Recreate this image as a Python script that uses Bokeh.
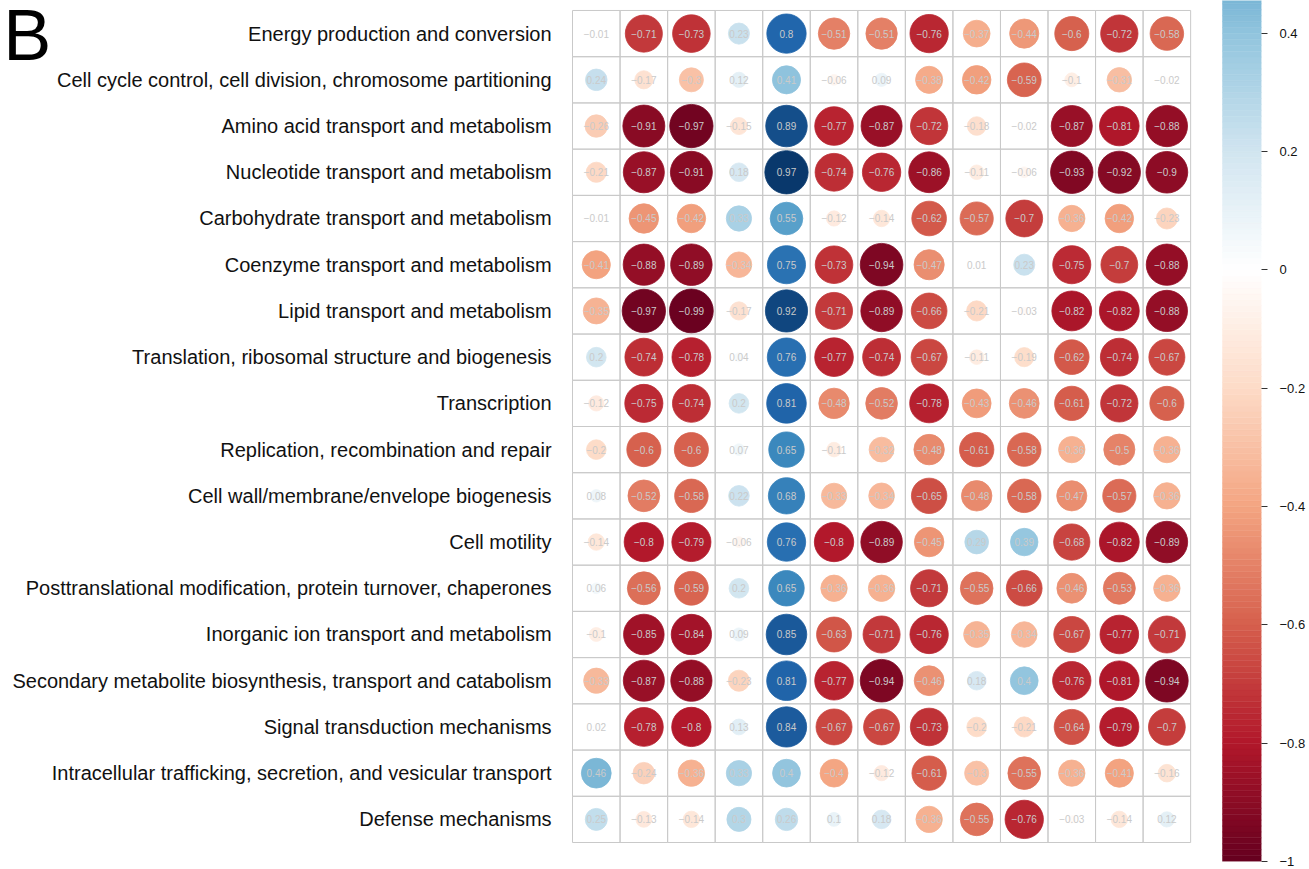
import numpy as np
from bokeh.plotting import figure
from bokeh.models import Range1d, LinearAxis, FixedTicker
from bokeh.core.properties import value
from bokeh.embed import file_html
from bokeh.resources import INLINE

panel_letter = "B"

categories = [
    "Energy production and conversion",
    "Cell cycle control, cell division, chromosome partitioning",
    "Amino acid transport and metabolism",
    "Nucleotide transport and metabolism",
    "Carbohydrate transport and metabolism",
    "Coenzyme transport and metabolism",
    "Lipid transport and metabolism",
    "Translation, ribosomal structure and biogenesis",
    "Transcription",
    "Replication, recombination and repair",
    "Cell wall/membrane/envelope biogenesis",
    "Cell motility",
    "Posttranslational modification, protein turnover, chaperones",
    "Inorganic ion transport and metabolism",
    "Secondary metabolite biosynthesis, transport and catabolism",
    "Signal transduction mechanisms",
    "Intracellular trafficking, secretion, and vesicular transport",
    "Defense mechanisms",
]

r_energy = [-0.01, -0.71, -0.73, 0.23, 0.8, -0.51, -0.51, -0.76, -0.37, -0.44, -0.6, -0.72, -0.58]
r_cellcycle = [0.24, -0.17, -0.3, 0.12, 0.41, -0.06, 0.09, -0.38, -0.42, -0.59, -0.1, -0.31, -0.02]
r_amino = [-0.26, -0.91, -0.97, -0.15, 0.89, -0.77, -0.87, -0.72, -0.18, -0.02, -0.87, -0.81, -0.88]
r_nucleo = [-0.21, -0.87, -0.91, 0.18, 0.97, -0.74, -0.76, -0.86, -0.11, -0.06, -0.93, -0.92, -0.9]
r_carbo = [-0.01, -0.45, -0.42, 0.33, 0.55, -0.12, -0.14, -0.62, -0.57, -0.7, -0.36, -0.42, -0.23]
r_coenz = [-0.41, -0.88, -0.89, -0.34, 0.75, -0.73, -0.94, -0.47, 0.01, 0.23, -0.75, -0.7, -0.88]
r_lipid = [-0.35, -0.97, -0.99, -0.17, 0.92, -0.71, -0.89, -0.66, -0.21, -0.03, -0.82, -0.82, -0.88]
r_transl = [0.2, -0.74, -0.78, 0.04, 0.76, -0.77, -0.74, -0.67, -0.11, -0.19, -0.62, -0.74, -0.67]
r_transc = [-0.12, -0.75, -0.74, 0.2, 0.81, -0.48, -0.52, -0.78, -0.43, -0.46, -0.61, -0.72, -0.6]
r_repl = [-0.2, -0.6, -0.6, 0.07, 0.65, -0.11, -0.32, -0.48, -0.61, -0.58, -0.36, -0.5, -0.36]
r_wall = [0.08, -0.52, -0.58, 0.22, 0.68, -0.33, -0.34, -0.65, -0.48, -0.58, -0.47, -0.57, -0.36]
r_motil = [-0.14, -0.8, -0.79, -0.06, 0.76, -0.8, -0.89, -0.45, 0.29, 0.39, -0.68, -0.82, -0.89]
r_posttr = [0.06, -0.56, -0.59, 0.2, 0.65, -0.36, -0.36, -0.71, -0.55, -0.66, -0.46, -0.53, -0.36]
r_inorg = [-0.1, -0.85, -0.84, 0.09, 0.85, -0.63, -0.71, -0.76, -0.35, -0.34, -0.67, -0.77, -0.71]
r_second = [-0.33, -0.87, -0.88, -0.23, 0.81, -0.77, -0.94, -0.46, 0.18, 0.4, -0.76, -0.81, -0.94]
r_signal = [0.02, -0.78, -0.8, 0.13, 0.84, -0.67, -0.67, -0.73, -0.2, -0.21, -0.64, -0.79, -0.7]
r_intra = [0.46, -0.24, -0.36, 0.33, 0.4, -0.4, -0.12, -0.61, -0.3, -0.55, -0.36, -0.41, -0.16]
r_defense = [0.25, -0.13, -0.14, 0.3, 0.26, 0.1, 0.18, -0.36, -0.55, -0.76, -0.03, -0.14, 0.12]

rows = [r_energy, r_cellcycle, r_amino, r_nucleo, r_carbo, r_coenz, r_lipid, r_transl,
        r_transc, r_repl, r_wall, r_motil, r_posttr, r_inorg, r_second, r_signal,
        r_intra, r_defense]

cb_ticks = [0.4, 0.2, 0, -0.2, -0.4, -0.6, -0.8, -1]

# RdBu ramp (corrplot COL2 style), 200 colours from -1 to 1
anchors = ["#67001F", "#B2182B", "#D6604D", "#F4A582", "#FDDBC7", "#FFFFFF",
           "#D1E5F0", "#92C5DE", "#4393C3", "#2166AC", "#053061"]


def hex2rgb(h):
    return [int(h[i:i + 2], 16) for i in (1, 3, 5)]


anc = np.array([hex2rgb(h) for h in anchors], dtype=float)
N = 200
pos = np.linspace(0, 1, len(anchors))
tt = np.linspace(0, 1, N)
pal = []
for t in tt:
    rgb = [np.interp(t, pos, anc[:, k]) for k in range(3)]
    pal.append("#%02x%02x%02x" % tuple(int(round(c)) for c in rgb))


def colour(v):
    return pal[int(round((v + 1) / 2 * (N - 1)))]


def fmt(v):
    s = f"{abs(v):.2f}".rstrip("0").rstrip(".")
    if s == "":
        s = "0"
    return ("\u2212" + s) if v < 0 else s


xs, ys, cols, sizes, labels = [], [], [], [], []
for i, row in enumerate(rows):
    for j, v in enumerate(row):
        xs.append(j)
        ys.append(i)
        cols.append(colour(v))
        sizes.append(44 * np.sqrt(abs(v)))
        labels.append(fmt(v))

ncol = len(rows[0])
nrow = len(rows)

# frame spans the canvas from the left edge; one grid column = 47.55 px
p = figure(width=1309, height=869, output_backend="svg", toolbar_location=None,
           x_range=Range1d(-12.53, ncol + 0.99), y_range=Range1d(nrow - 0.089, -0.716),
           x_axis_location=None, y_axis_location=None,
           min_border_left=0, min_border_right=48, min_border_top=0, min_border_bottom=8)
p.outline_line_color = None
p.grid.visible = False
p.background_fill_color = "white"
p.border_fill_color = "white"

# cell borders
p.rect(x=xs, y=ys, width=1, height=1, fill_color=None, line_color="#C9C9C9", line_width=1)

# circles
p.scatter(x=xs, y=ys, size=sizes, fill_color=cols, line_color=cols, line_width=0.8)

# coefficients
p.text(x=xs, y=ys, text=labels, text_align="center", text_baseline="middle",
       text_font_size="10px", text_color="#CACACA", text_font=value("Liberation Sans"))

# row labels (right-aligned, left of the grid)
p.text(x=[-0.5 - 0.44] * nrow, y=list(range(nrow)), text=categories,
       text_align="right", text_baseline="middle", text_font_size="20px",
       text_color="#111111", text_font=value("Liberation Sans"))

# panel letter
p.text(x=[-12.47], y=[0.03], text=[panel_letter], text_align="left",
       text_baseline="alphabetic", text_font_size="72px", text_color="black",
       text_font=value("Liberation Sans"))

# colour bar
p.extra_y_ranges = {"cb": Range1d(-1.0, 0.4556)}
edges = np.linspace(-1, 1, N + 1)
p.quad(left=ncol + 0.17, right=ncol + 0.99, bottom=edges[:-1], top=edges[1:],
       fill_color=pal, line_color=pal, line_width=0.5, y_range_name="cb")

cax = LinearAxis(y_range_name="cb", ticker=FixedTicker(ticks=cb_ticks))
cax.axis_line_color = None
cax.minor_tick_line_color = None
cax.major_tick_out = 6
cax.major_tick_in = 0
cax.major_tick_line_color = "#333333"
cax.major_label_standoff = 12
cax.major_label_text_font = "Liberation Sans"
cax.major_label_text_font_size = "13px"
cax.major_label_text_color = "#111111"
p.add_layout(cax, "right")

open("out.html", "w").write(file_html(p, INLINE))
